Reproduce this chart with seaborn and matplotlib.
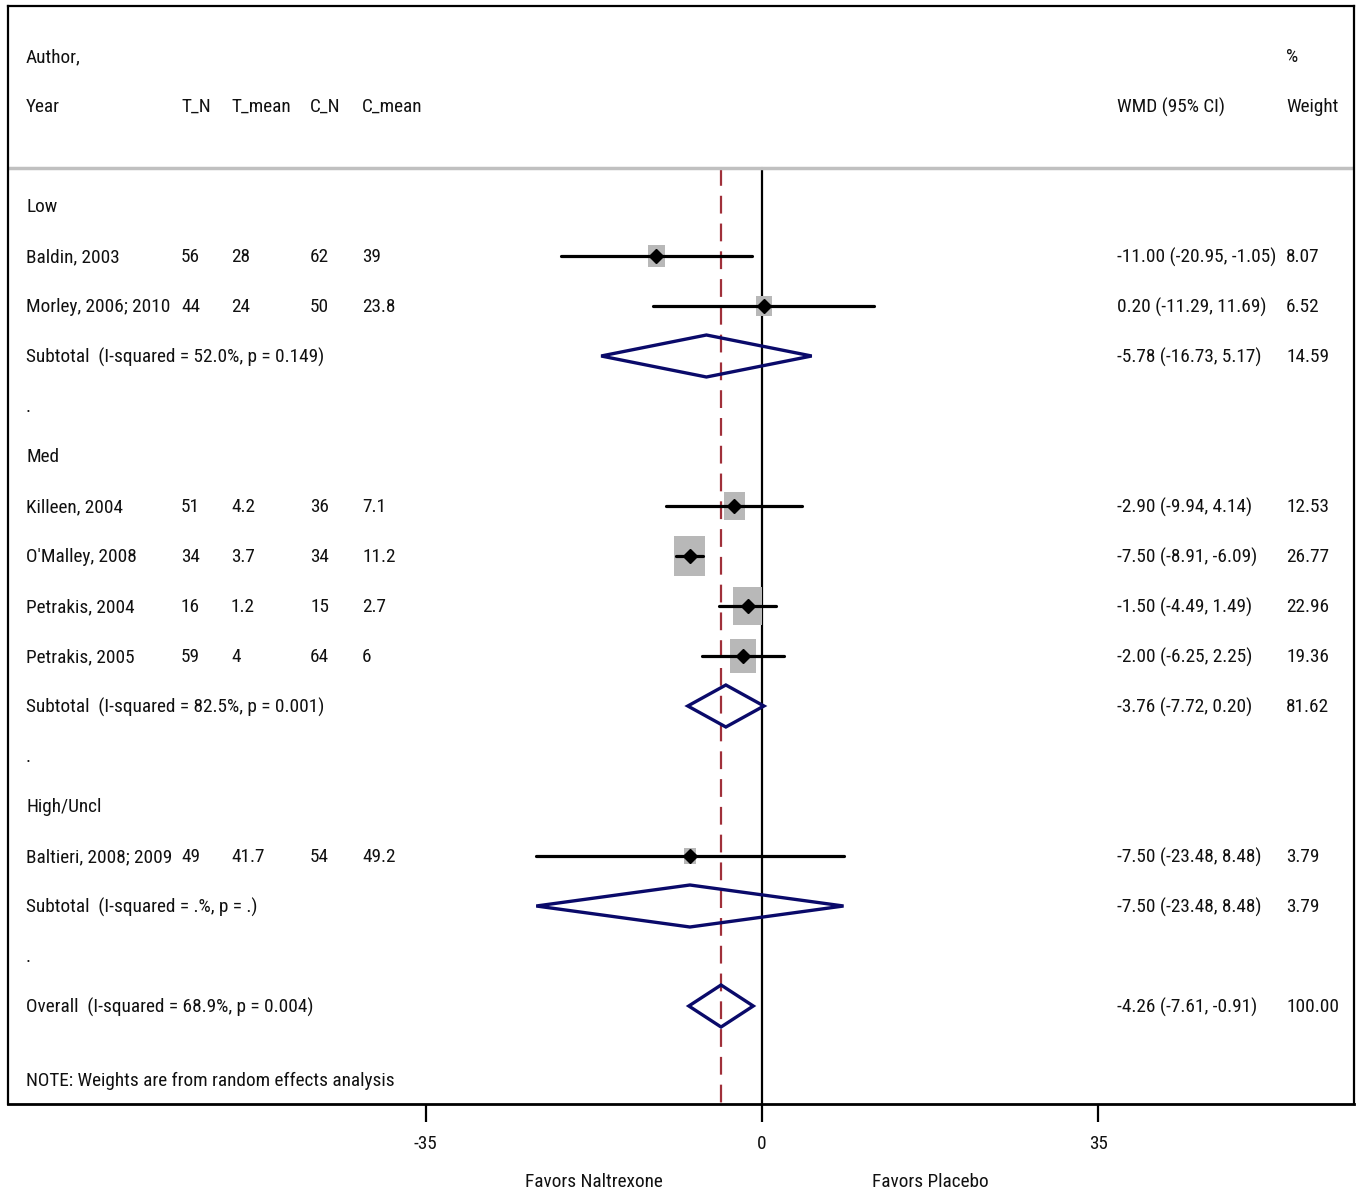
import numpy as np
import pandas as pd
import matplotlib
matplotlib.use("Agg")
import matplotlib.pyplot as plt
import seaborn as sns
from matplotlib.patches import Rectangle, Polygon

sns.set_style("white")
plt.rcParams["font.family"] = ["Roboto Condensed", "DejaVu Sans"]

# study rows
authors = ["Baldin, 2003", "Morley, 2006; 2010", "Killeen, 2004", "O'Malley, 2008",
           "Petrakis, 2004", "Petrakis, 2005", "Baltieri, 2008; 2009"]
groups = ["Low", "Low", "Med", "Med", "Med", "Med", "High/Uncl"]
t_n = [56, 44, 51, 34, 16, 59, 49]
t_mean = [28, 24, 4.2, 3.7, 1.2, 4, 41.7]
c_n = [62, 50, 36, 34, 15, 64, 54]
c_mean = [39, 23.8, 7.1, 11.2, 2.7, 6, 49.2]
wmd = [-11.00, 0.20, -2.90, -7.50, -1.50, -2.00, -7.50]
lo = [-20.95, -11.29, -9.94, -8.91, -4.49, -6.25, -23.48]
hi = [-1.05, 11.69, 4.14, -6.09, 1.49, 2.25, 8.48]
weight = [8.07, 6.52, 12.53, 26.77, 22.96, 19.36, 3.79]

# subtotals
sub_groups = ["Low", "Med", "High/Uncl"]
sub_i2 = ["52.0%", "82.5%", ".%"]
sub_p = ["0.149", "0.001", "."]
sub_wmd = [-5.78, -3.76, -7.50]
sub_lo = [-16.73, -7.72, -23.48]
sub_hi = [5.17, 0.20, 8.48]
sub_weight = [14.59, 81.62, 3.79]

# overall
ov_wmd, ov_lo, ov_hi, ov_weight = -4.26, -7.61, -0.91, 100.00
ov_i2, ov_p = "68.9%", "0.004"

studies = pd.DataFrame(dict(author=authors, group=groups, t_n=t_n, t_mean=t_mean,
                            c_n=c_n, c_mean=c_mean, wmd=wmd, lo=lo, hi=hi, weight=weight))

W, H = 1356, 1192
fig = plt.figure(figsize=(W / 100, H / 100), dpi=100)
ax = fig.add_axes([8 / W, 1 - 1104 / H, (1354 - 8) / W, (1104 - 6) / H])

# x scale: 0 at px 762, 9.614 px per unit
px0, sc = 762, 9.614
def xd(px):
    return (px - px0) / sc

ax.set_xlim(xd(8), xd(1354))
# rows: row 0 at px 206, 50 px per row
ax.set_ylim(17.96, -4)

# build row layout
rows = []
r = 0
for g, sg in enumerate(sub_groups):
    rows.append(("head", g, r)); r += 1
    for i in studies.index[studies.group == sg]:
        rows.append(("study", i, r)); r += 1
    rows.append(("sub", g, r)); r += 1
    rows.append(("dot", g, r)); r += 1
rows.append(("overall", 0, r))
ov_row = r

fs = 13.9
tc = "#111111"
col_author, col_tn, col_tm, col_cn, col_cm = xd(26), xd(181), xd(231), xd(310), xd(362)
col_wmd, col_w = xd(1117), xd(1286)

def put(x, y, s):
    ax.text(x, y + 0.02, s, fontsize=fs, va="center", color=tc)

def ci_txt(e, l, h):
    return "%.2f (%.2f, %.2f)" % (e, l, h)

# header
put(col_author, -3, "Author,")
put(col_author, -2, "Year")
for c, t in zip([col_tn, col_tm, col_cn, col_cm], ["T_N", "T_mean", "C_N", "C_mean"]):
    put(c, -2, t)
put(col_w, -3, "%")
put(col_wmd, -2, "WMD (95% CI)")
put(col_w, -2, "Weight")
ax.axhline(-0.76, color="#c0c0c0", lw=2.5)

# reference lines
ax.plot([0, 0], [-0.76, 17.96], color="black", lw=1.6, zorder=1)
ax.plot([ov_wmd, ov_wmd], [-0.76, 17.96], color="#a0303a", lw=1.6,
        dashes=(8, 4.5), zorder=1)

hh = 21.0 / 50  # half-height of diamonds in rows
for kind, i, y in rows:
    if kind == "head":
        put(col_author, y, sub_groups[i])
    elif kind == "dot":
        put(col_author, y, ".")
    elif kind == "study":
        s = studies.loc[i]
        put(col_author, y, s.author)
        put(col_tn, y, "%g" % s.t_n)
        put(col_tm, y, "%g" % s.t_mean)
        put(col_cn, y, "%g" % s.c_n)
        put(col_cm, y, "%g" % s.c_mean)
        put(col_wmd, y, ci_txt(s.wmd, s.lo, s.hi))
        put(col_w, y, "%.2f" % s.weight)
        side = 6.0 * np.sqrt(s.weight)
        bw, bh = side / sc, side * 1.3 / 50
        ax.add_patch(Rectangle((s.wmd - bw / 2, y - bh / 2), bw, bh,
                               facecolor="#b8b8b8", edgecolor="none", zorder=2))
        ax.plot([s.lo, s.hi], [y, y], color="black", lw=2.3,
                solid_capstyle="round", zorder=3)
        ax.plot(s.wmd, y, marker="D", color="black", ms=7.5, zorder=4)
    elif kind == "sub":
        put(col_author, y, "Subtotal  (I-squared = %s, p = %s)" % (sub_i2[i], sub_p[i]))
        put(col_wmd, y, ci_txt(sub_wmd[i], sub_lo[i], sub_hi[i]))
        put(col_w, y, "%.2f" % sub_weight[i])
        ax.add_patch(Polygon([(sub_lo[i], y), (sub_wmd[i], y - hh), (sub_hi[i], y),
                              (sub_wmd[i], y + hh)], closed=True, fill=False,
                             edgecolor="#0a0a6a", lw=2.4, zorder=5))
    elif kind == "overall":
        put(col_author, y, "Overall  (I-squared = %s, p = %s)" % (ov_i2, ov_p))
        put(col_wmd, y, ci_txt(ov_wmd, ov_lo, ov_hi))
        put(col_w, y, "%.2f" % ov_weight)
        ax.add_patch(Polygon([(ov_lo, y), (ov_wmd, y - hh), (ov_hi, y),
                              (ov_wmd, y + hh)], closed=True, fill=False,
                             edgecolor="#0a0a6a", lw=2.4, zorder=5))

put(col_author, ov_row + 1.48, "NOTE: Weights are from random effects analysis")

# frame and axis
for sp in ax.spines.values():
    sp.set_color("black")
    sp.set_linewidth(1.6)
ax.spines["bottom"].set_linewidth(2.0)
ax.set_yticks([])
ax.set_xticks([-35, 0, 35])
ax.set_xticklabels(["-35", "0", "35"], fontsize=fs, color=tc)
ax.tick_params(axis="x", direction="out", length=13, width=1.6, pad=9,
               bottom=True, color="black")
ax.text(-17.5, 17.96 + 1.56, "Favors Naltrexone", fontsize=fs, ha="center", va="center",
        clip_on=False, color=tc)
ax.text(17.5, 17.96 + 1.56, "Favors Placebo", fontsize=fs, ha="center", va="center",
        clip_on=False, color=tc)

fig.savefig("out.png", dpi=100)
